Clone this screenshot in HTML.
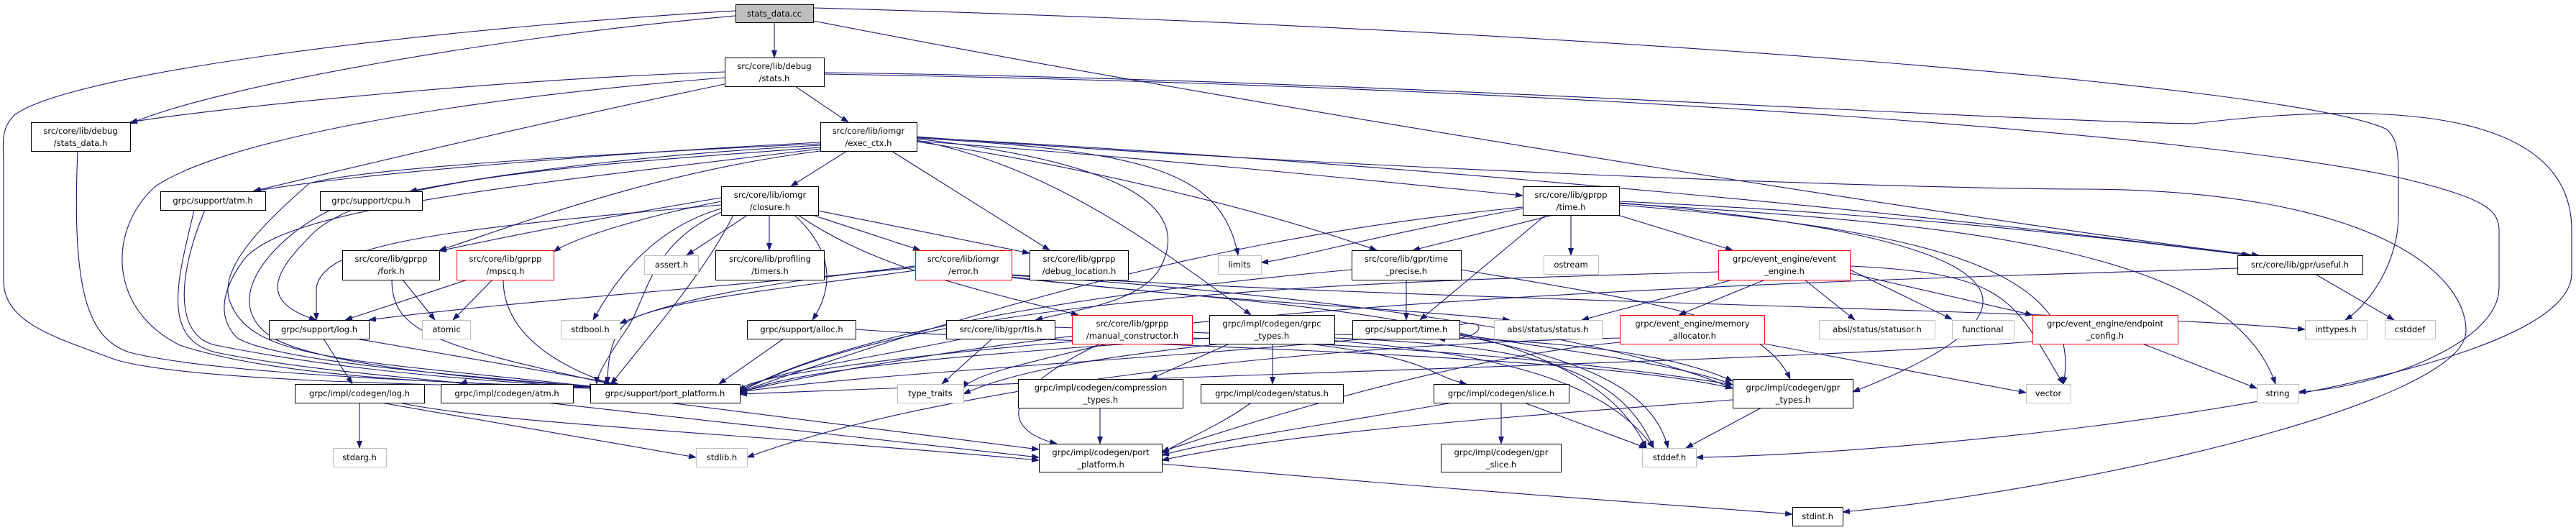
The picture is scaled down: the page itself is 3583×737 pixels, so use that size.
<!DOCTYPE html>
<html><head><meta charset="utf-8"><style>
html,body{margin:0;padding:0;background:#fff;}
svg{display:block}
text{font-family:"DejaVu Sans","Liberation Sans",sans-serif;font-size:11.5px;fill:#000;text-anchor:middle}
.e{fill:none;stroke:#191970;stroke-width:1.1;marker-end:url(#a)}
.n{fill:#fff;stroke:#000;stroke-width:1}
.g{fill:#fff;stroke:#bfbfbf;stroke-width:1}
.r{fill:#fff;stroke:#ff0000;stroke-width:1}
</style></head><body>
<svg width="3583" height="737" viewBox="0 0 3583 737" xmlns="http://www.w3.org/2000/svg">
<defs><marker id="a" markerUnits="userSpaceOnUse" markerWidth="11" markerHeight="8" refX="10" refY="4" orient="auto"><path d="M0,0 L11,4 L0,8 z" fill="#191970"/></marker></defs>
<g>
<path class="e" d="M1077,31 L1077,80"/>
<path class="e" d="M1023,22 C700,50 300,120 181,172"/>
<path class="e" d="M1023,15 C600,40 100,100 20,160 C0,180 5,200 5,230 L5,390 C5,450 80,470 160,500 C260,530 600,535 830,540"/>
<path class="e" d="M1131,11 C2200,40 3200,120 3320,180 C3330,190 3336,200 3336,240 L3336,300 C3336,360 3300,420 3262,445"/>
<path class="e" d="M1131,29 C1800,160 2900,330 3142,355"/>
<path class="e" d="M1008,100 C700,110 300,150 181,170"/>
<path class="e" d="M1106,120 L1180,170"/>
<path class="e" d="M1008,117 C800,160 500,230 352,266"/>
<path class="e" d="M1008,108 C600,140 300,200 215,260 C150,320 150,430 250,480 C400,530 700,535 830,538"/>
<path class="e" d="M1146,103 C2200,120 3100,190 3350,250 C3450,275 3476,290 3476,320 L3476,400 C3476,480 3300,540 3197,545"/>
<path class="e" d="M1146,101 C1900,110 2700,165 3050,172 C3400,130 3577,180 3577,320 L3577,380 C3577,540 2700,630 2359,636"/>
<path class="e" d="M1178,210 L1100,259"/>
<path class="e" d="M1240,210 L1460,348"/>
<path class="e" d="M1275,193 C1600,230 1650,300 1615,370 C1590,420 1500,430 1440,445"/>
<path class="e" d="M1275,192 C1600,210 1700,240 1722,355"/>
<path class="e" d="M1275,195 C1450,230 1580,320 1740,438"/>
<path class="e" d="M1275,196 C1600,220 1900,250 2118,272"/>
<path class="e" d="M1275,197 C1500,230 1750,290 1915,348"/>
<path class="e" d="M1275,191 C2000,230 2700,300 3128,355"/>
<path class="e" d="M1275,190 C1800,230 2600,262 2900,263 C3300,265 3430,380 3430,460 C3430,560 2900,680 2563,712"/>
<path class="e" d="M1141,198 C900,210 500,240 353,266"/>
<path class="e" d="M1141,202 C900,215 700,240 570,266"/>
<path class="e" d="M1141,205 C800,230 500,250 430,330 C380,380 360,420 440,445"/>
<path class="e" d="M1141,210 C900,240 700,320 611,348"/>
<path class="e" d="M1141,200 C700,220 480,240 430,255 C380,300 300,370 320,420 C350,500 480,500 830,538"/>
<path class="e" d="M1141,207 C700,260 400,290 340,360 C310,400 300,440 330,470 C380,500 600,520 830,538"/>
<path class="e" d="M1040,299 L955,355"/>
<path class="e" d="M1070,299 L1070,348"/>
<path class="e" d="M1130,299 L1280,348"/>
<path class="e" d="M1138,293 L1432,352"/>
<path class="e" d="M1105,299 C1160,350 1160,400 1130,445"/>
<path class="e" d="M1110,299 C1200,360 1300,390 1500,438"/>
<path class="e" d="M1003,285 C600,320 450,340 440,400 L440,445"/>
<path class="e" d="M1003,290 C900,320 850,400 825,445"/>
<path class="e" d="M1003,280 C900,300 800,330 770,350"/>
<path class="e" d="M1003,275 C850,300 700,330 611,349"/>
<path class="e" d="M1003,295 C900,340 900,420 870,460 C850,490 830,520 830,534"/>
<path class="e" d="M1020,299 C980,380 900,470 850,534"/>
<path class="e" d="M1273,376 C1100,400 900,420 870,450 C850,470 845,500 845,534"/>
<path class="e" d="M1407,385 C1700,420 1900,425 2100,445"/>
<path class="e" d="M1407,383 C1700,400 2200,450 2410,540"/>
<path class="e" d="M1273,370 C1100,390 950,410 862,450"/>
<path class="e" d="M1273,372 C1000,400 700,420 513,445"/>
<path class="e" d="M1407,382 C2000,420 2900,430 3206,458"/>
<path class="e" d="M1407,386 C1800,430 2200,430 2290,623"/>
<path class="e" d="M685,389 L630,445"/>
<path class="e" d="M650,389 L480,445"/>
<path class="e" d="M700,389 C700,450 750,500 850,534"/>
<path class="e" d="M560,389 L605,445"/>
<path class="e" d="M545,389 C545,460 600,480 850,534"/>
<path class="e" d="M450,471 L490,534"/>
<path class="e" d="M495,471 L860,534"/>
<path class="e" d="M500,560 L500,623"/>
<path class="e" d="M555,560 C700,590 1000,600 1445,640"/>
<path class="e" d="M530,560 L968,636"/>
<path class="e" d="M760,560 L1445,636"/>
<path class="e" d="M930,560 L1445,625"/>
<path class="e" d="M108,210 C100,400 120,470 180,490 C300,520 600,530 830,540"/>
<path class="e" d="M270,292 C250,380 220,470 300,490 C450,520 650,530 640,534"/>
<path class="e" d="M285,292 C240,400 250,470 300,480 C500,520 700,530 830,540"/>
<path class="e" d="M460,292 C380,330 300,420 380,470 C450,510 700,530 830,538"/>
<path class="e" d="M1090,471 L1000,534"/>
<path class="e" d="M1190,458 C1500,480 2200,490 2410,540"/>
<path class="e" d="M1380,471 L1310,534"/>
<path class="e" d="M1340,471 C1200,500 1050,520 1029,545"/>
<path class="e" d="M1467,455 C1900,470 2200,480 2300,623"/>
<path class="e" d="M1540,478 C1450,500 1350,520 1340,540"/>
<path class="e" d="M1530,478 C1380,550 1400,600 1470,617"/>
<path class="e" d="M1491,475 C1200,500 1000,530 1029,548"/>
<path class="e" d="M1658,470 C1900,480 2200,500 2410,535"/>
<path class="e" d="M1710,478 L1600,527"/>
<path class="e" d="M1770,478 L1770,534"/>
<path class="e" d="M1820,478 C2000,500 1980,520 2040,534"/>
<path class="e" d="M1682,470 C1400,490 1100,510 1029,548"/>
<path class="e" d="M1856,470 C2100,480 2250,500 2300,623"/>
<path class="e" d="M1856,465 C2100,470 2300,480 2410,530"/>
<path class="e" d="M1700,478 C1500,500 1400,520 1340,548"/>
<path class="e" d="M1530,567 L1530,617"/>
<path class="e" d="M1740,560 C1700,590 1650,610 1616,630"/>
<path class="e" d="M2088,560 L2088,617"/>
<path class="e" d="M2120,560 L2290,623"/>
<path class="e" d="M2020,560 C1850,590 1700,610 1616,633"/>
<path class="e" d="M2450,567 L2345,623"/>
<path class="e" d="M2410,556 C2100,580 1800,600 1616,640"/>
<path class="e" d="M1616,645 C2000,680 2300,700 2493,715"/>
<path class="e" d="M2185,299 L2185,355"/>
<path class="e" d="M2250,299 L2410,348"/>
<path class="e" d="M2160,299 L1965,348"/>
<path class="e" d="M2150,299 L1975,445"/>
<path class="e" d="M2118,290 C1900,330 1800,360 1754,365"/>
<path class="e" d="M2118,288 C1800,320 1500,380 1029,545"/>
<path class="e" d="M2252,280 C2700,300 3000,340 3130,355"/>
<path class="e" d="M2252,283 C2700,310 3100,340 3165,534"/>
<path class="e" d="M2252,285 C2700,320 2900,380 2870,534"/>
<path class="e" d="M2252,282 C2700,320 2950,400 2577,545"/>
<path class="e" d="M1956,389 L1956,445"/>
<path class="e" d="M2032,375 C2300,420 2450,440 2490,527"/>
<path class="e" d="M1880,375 C1600,400 1200,450 1029,545"/>
<path class="e" d="M2030,452 C2070,440 2070,475 2000,471"/>
<path class="e" d="M2030,465 C2200,490 2350,510 2410,535"/>
<path class="e" d="M2030,466 C2200,500 2300,540 2320,623"/>
<path class="e" d="M1900,471 C1600,500 1200,520 1029,545"/>
<path class="e" d="M2455,389 L2335,438"/>
<path class="e" d="M2510,389 L2580,445"/>
<path class="e" d="M2410,389 L2200,445"/>
<path class="e" d="M2573,375 L2715,444"/>
<path class="e" d="M2573,380 L2827,438"/>
<path class="e" d="M2573,370 C2800,380 2800,420 2870,534"/>
<path class="e" d="M2390,378 C2000,390 1300,400 1029,545"/>
<path class="e" d="M2454,478 L2818,546"/>
<path class="e" d="M2253,476 C2000,500 1700,600 1616,628"/>
<path class="e" d="M2253,470 C1800,480 1300,540 1039,636"/>
<path class="e" d="M2980,478 L3139,540"/>
<path class="e" d="M2827,475 C2500,500 2000,510 1029,548"/>
<path class="e" d="M3220,381 L3330,445"/>
<path class="e" d="M3112,373 C2600,390 1600,410 1029,545"/>
</g>
<g>
<rect x="1023.5" y="6.5" width="108" height="25" class="n" style="fill:#bfbfbf"/><text x="1077" y="23">stats_data.cc</text>
<rect x="1008.5" y="80.5" width="138" height="40" class="n"/><text x="1077" y="96">src/core/lib/debug</text><text x="1077" y="113">/stats.h</text>
<rect x="43.5" y="170.5" width="138" height="40" class="n"/><text x="112" y="186">src/core/lib/debug</text><text x="112" y="203">/stats_data.h</text>
<rect x="1141.5" y="170.5" width="134" height="40" class="n"/><text x="1208" y="186">src/core/lib/iomgr</text><text x="1208" y="203">/exec_ctx.h</text>
<rect x="223.5" y="266.5" width="146" height="26" class="n"/><text x="296" y="283">grpc/support/atm.h</text>
<rect x="445.5" y="266.5" width="142" height="26" class="n"/><text x="516" y="283">grpc/support/cpu.h</text>
<rect x="1003.5" y="259.5" width="135" height="40" class="n"/><text x="1071" y="275">src/core/lib/iomgr</text><text x="1071" y="292">/closure.h</text>
<rect x="2118.5" y="259.5" width="134" height="40" class="n"/><text x="2185" y="275">src/core/lib/gprpp</text><text x="2185" y="292">/time.h</text>
<rect x="476.5" y="348.5" width="135" height="41" class="n"/><text x="544" y="364">src/core/lib/gprpp</text><text x="544" y="381">/fork.h</text>
<rect x="635.5" y="348.5" width="135" height="41" class="r"/><text x="703" y="364">src/core/lib/gprpp</text><text x="703" y="381">/mpscq.h</text>
<rect x="896.5" y="355.5" width="75" height="26" class="g"/><text x="934" y="372">assert.h</text>
<rect x="995.5" y="348.5" width="151" height="41" class="n"/><text x="1071" y="364">src/core/lib/profiling</text><text x="1071" y="381">/timers.h</text>
<rect x="1273.5" y="348.5" width="134" height="41" class="r"/><text x="1340" y="364">src/core/lib/iomgr</text><text x="1340" y="381">/error.h</text>
<rect x="1432.5" y="348.5" width="137" height="41" class="n"/><text x="1501" y="364">src/core/lib/gprpp</text><text x="1501" y="381">/debug_location.h</text>
<rect x="1694.5" y="355.5" width="60" height="26" class="g"/><text x="1724" y="372">limits</text>
<rect x="1880.5" y="348.5" width="152" height="41" class="n"/><text x="1956" y="364">src/core/lib/gpr/time</text><text x="1956" y="381">_precise.h</text>
<rect x="2147.5" y="355.5" width="76" height="26" class="g"/><text x="2185" y="372">ostream</text>
<rect x="2390.5" y="348.5" width="183" height="41" class="r"/><text x="2482" y="364">grpc/event_engine/event</text><text x="2482" y="381">_engine.h</text>
<rect x="3112.5" y="355.5" width="174" height="26" class="n"/><text x="3199" y="372">src/core/lib/gpr/useful.h</text>
<rect x="374.5" y="445.5" width="139" height="26" class="n"/><text x="444" y="462">grpc/support/log.h</text>
<rect x="587.5" y="445.5" width="67" height="26" class="g"/><text x="621" y="462">atomic</text>
<rect x="780.5" y="445.5" width="82" height="26" class="g"/><text x="821" y="462">stdbool.h</text>
<rect x="1039.5" y="445.5" width="151" height="26" class="n"/><text x="1115" y="462">grpc/support/alloc.h</text>
<rect x="1316.5" y="445.5" width="151" height="26" class="n"/><text x="1392" y="462">src/core/lib/gpr/tls.h</text>
<rect x="1491.5" y="438.5" width="167" height="40" class="r"/><text x="1575" y="454">src/core/lib/gprpp</text><text x="1575" y="471">/manual_constructor.h</text>
<rect x="1682.5" y="438.5" width="174" height="40" class="n"/><text x="1769" y="454">grpc/impl/codegen/grpc</text><text x="1769" y="471">_types.h</text>
<rect x="1881.5" y="445.5" width="149" height="26" class="n"/><text x="1956" y="462">grpc/support/time.h</text>
<rect x="2078.5" y="445.5" width="150" height="26" class="g"/><text x="2153" y="462">absl/status/status.h</text>
<rect x="2253.5" y="438.5" width="201" height="40" class="r"/><text x="2354" y="454">grpc/event_engine/memory</text><text x="2354" y="471">_allocator.h</text>
<rect x="2530.5" y="445.5" width="161" height="26" class="g"/><text x="2611" y="462">absl/status/statusor.h</text>
<rect x="2715.5" y="445.5" width="86" height="26" class="g"/><text x="2758" y="462">functional</text>
<rect x="2827.5" y="438.5" width="202" height="40" class="r"/><text x="2928" y="454">grpc/event_engine/endpoint</text><text x="2928" y="471">_config.h</text>
<rect x="3206.5" y="445.5" width="86" height="26" class="g"/><text x="3249" y="462">inttypes.h</text>
<rect x="3317.5" y="445.5" width="70" height="26" class="g"/><text x="3352" y="462">cstddef</text>
<rect x="410.5" y="534.5" width="180" height="26" class="n"/><text x="500" y="551">grpc/impl/codegen/log.h</text>
<rect x="613.5" y="534.5" width="184" height="26" class="n"/><text x="705" y="551">grpc/impl/codegen/atm.h</text>
<rect x="821.5" y="534.5" width="208" height="26" class="n"/><text x="925" y="551">grpc/support/port_platform.h</text>
<rect x="1248.5" y="534.5" width="92" height="26" class="g"/><text x="1294" y="551">type_traits</text>
<rect x="1416.5" y="527.5" width="229" height="40" class="n"/><text x="1531" y="543">grpc/impl/codegen/compression</text><text x="1531" y="560">_types.h</text>
<rect x="1670.5" y="534.5" width="198" height="26" class="n"/><text x="1769" y="551">grpc/impl/codegen/status.h</text>
<rect x="1994.5" y="534.5" width="188" height="26" class="n"/><text x="2088" y="551">grpc/impl/codegen/slice.h</text>
<rect x="2410.5" y="527.5" width="167" height="40" class="n"/><text x="2494" y="543">grpc/impl/codegen/gpr</text><text x="2494" y="560">_types.h</text>
<rect x="2818.5" y="534.5" width="62" height="26" class="g"/><text x="2849" y="551">vector</text>
<rect x="3139.5" y="534.5" width="58" height="26" class="g"/><text x="3168" y="551">string</text>
<rect x="463.5" y="623.5" width="74" height="26" class="g"/><text x="500" y="640">stdarg.h</text>
<rect x="968.5" y="623.5" width="71" height="26" class="g"/><text x="1004" y="640">stdlib.h</text>
<rect x="1445.5" y="617.5" width="171" height="39" class="n"/><text x="1531" y="633">grpc/impl/codegen/port</text><text x="1531" y="650">_platform.h</text>
<rect x="2004.5" y="617.5" width="167" height="39" class="n"/><text x="2088" y="633">grpc/impl/codegen/gpr</text><text x="2088" y="650">_slice.h</text>
<rect x="2284.5" y="623.5" width="75" height="26" class="g"/><text x="2322" y="640">stddef.h</text>
<rect x="2493.5" y="705.5" width="70" height="26" class="n"/><text x="2528" y="722">stdint.h</text>
</g>
</svg>
</body></html>
